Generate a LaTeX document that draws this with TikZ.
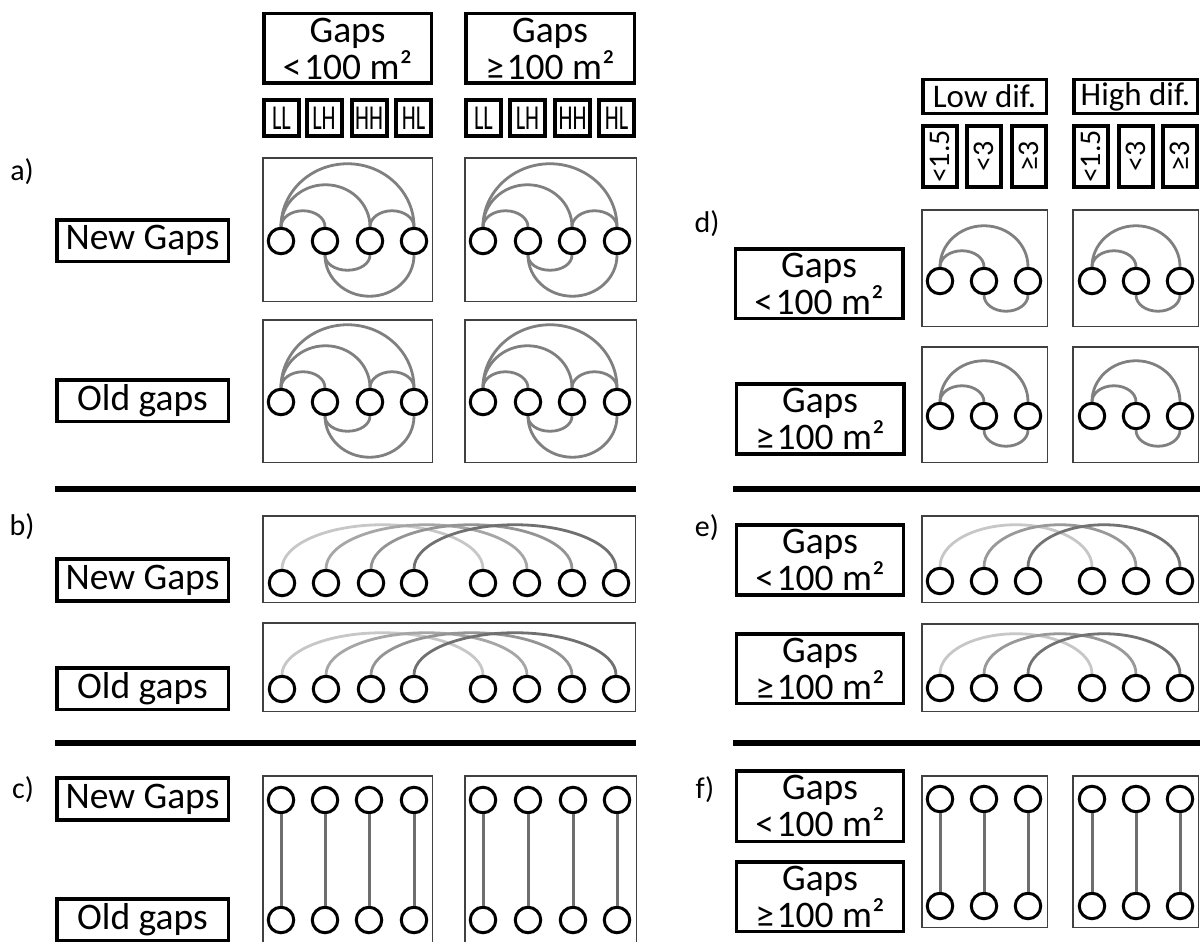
\documentclass[tikz,border=0pt]{standalone}
\usepackage{fontspec}
\setmainfont{Carlito}
\usepackage{graphicx}
\usetikzlibrary{calc}
\pgfdeclarelayer{bg}
\pgfsetlayers{bg,main}
\newcommand\fbig{\fontsize{37.5}{37}\selectfont}
\newcommand\fmid{\fontsize{33}{33}\selectfont}
\newcommand\fsml{\fontsize{30}{30}\selectfont}
\newcommand\ftag{\fontsize{30}{30}\selectfont}
\newcommand\fcode{\fontsize{35}{35}\selectfont}
\newcommand\sq[1]{\scalebox{0.64}[1]{#1}}
\newcommand\rt[1]{\rotatebox{90}{#1}}
\newcommand\myLt{<\kern2.5pt}
\newcommand\myGe{≥\kern2.5pt}
% elliptic arc above: style, from, to, half width, height
\newcommand\upArc[5]{\draw[#1] (#2.north) .. controls +(0,-0.5523*#5) and +(-0.5523*#4,0) .. ($(#2.north)!0.5!(#3.north)+(0,-#5)$) .. controls +(0.5523*#4,0) and +(0,-0.5523*#5) .. (#3.north);}
\newcommand\dnArc[5]{\draw[#1] (#2.south) .. controls +(0,0.5523*#5) and +(-0.5523*#4,0) .. ($(#2.south)!0.5!(#3.south)+(0,#5)$) .. controls +(0.5523*#4,0) and +(0,0.5523*#5) .. (#3.south);}
\begin{document}
\begin{tikzpicture}[x=1pt,y=-1pt,
  lbox/.style={draw=black,line width=3.5pt,inner sep=0pt,align=center,font=\fbig},
  sbox/.style={draw=black,line width=4pt,inner sep=0pt,minimum width=35pt,minimum height=36pt,font=\fcode},
  vbox/.style={draw=black,line width=4pt,inner sep=0pt,minimum width=34pt,minimum height=61pt,font=\fsml},
  pan/.style={draw=black!75,line width=1.5pt,inner sep=0pt},
  gc/.style={circle,draw=black,line width=3pt,fill=white,minimum size=25.5pt,inner sep=0pt},
  arcg/.style={draw=black!50,line width=2.8pt},
  vl/.style={draw=black!57,line width=3pt},
  sep/.style={draw=black,line width=6pt},
  tag/.style={font=\ftag,inner sep=0pt}]
\begin{pgfonlayer}{bg}
\fill[white] (0,0) rectangle (1203,942);
\end{pgfonlayer}
\useasboundingbox (0,0) rectangle (1203,942);

% ---------- headers left ----------
\node[lbox,minimum width=167.5pt,minimum height=69.5pt] (hS) at (347.5,48.5) {Gaps\\\myLt100 m²};
\node[lbox,minimum width=168.5pt,minimum height=69.5pt] (hL) at (550,48.5) {Gaps\\\myGe100 m²};
\foreach \n/\x/\t in {1/281.5/LL,2/324/LH,3/369/HH,4/413.5/HL,5/483.5/LL,6/527.5/LH,7/572.5/HH,8/616.5/HL}
  \node[sbox] (s\n) at (\x,118) {\sq{\t}};

% ---------- headers right ----------
\node[lbox,font=\fmid,minimum width=123.5pt,minimum height=33.5pt] (hLo) at (984.5,96.5) {Low dif.};
\node[lbox,font=\fmid,minimum width=123.5pt,minimum height=33.5pt] (hHi) at (1135.5,96.5) {High dif.};
\node[vbox] (v1) at (940,156.5) {\rt{<1.5}};
\node[vbox] (v2) at (984,156.5) {\rt{<3}};
\node[vbox] (v3) at (1028.5,156.5) {\rt{≥3}};
\node[vbox] (v4) at (1091,156.5) {\rt{<1.5}};
\node[vbox] (v5) at (1136,156.5) {\rt{<3}};
\node[vbox] (v6) at (1180,156.5) {\rt{≥3}};

% ---------- tags ----------
\node[tag] (ta) at (22,172) {a)};
\node[tag] (tb) at (22,527) {b)};
\node[tag] (tc) at (23,790) {c)};
\node[tag] (td) at (707,224) {d)};
\node[tag] (te) at (707,528) {e)};
\node[tag] (tf) at (705,790) {f)};

% ---------- separators ----------
\coordinate (sL1a) at (55,489); \coordinate (sL1b) at (636,489);
\coordinate (sL2a) at (55,743); \coordinate (sL2b) at (636,743);
\coordinate (sR1a) at (733,489); \coordinate (sR1b) at (1200,489);
\coordinate (sR2a) at (733,743); \coordinate (sR2b) at (1200,743);
\draw[sep] (sL1a) -- (sL1b);
\draw[sep] (sL2a) -- (sL2b);
\draw[sep] (sR1a) -- (sR1b);
\draw[sep] (sR2a) -- (sR2b);

% ---------- left row labels ----------
\node[lbox,minimum width=171.5pt,minimum height=41.5pt] (ngA) at (142.5,240.5) {New Gaps};
\node[lbox,minimum width=171.5pt,minimum height=41.5pt] (ogA) at (142.5,400.5) {Old gaps};
\node[lbox,minimum width=171.5pt,minimum height=42pt] (ngB) at (142.5,580) {New Gaps};
\node[lbox,minimum width=171.5pt,minimum height=41.5pt] (ogB) at (142.5,688.5) {Old gaps};
\node[lbox,minimum width=171.5pt,minimum height=42pt] (ngC) at (142.5,799) {New Gaps};
\node[lbox,minimum width=171.5pt,minimum height=41.5pt] (ogC) at (142.5,919.5) {Old gaps};

% ---------- right row labels ----------
\node[lbox,minimum width=167.5pt,minimum height=69.5pt] (gD1) at (819,283.5) {Gaps\\\myLt100 m²};
\node[lbox,minimum width=167.5pt,minimum height=70pt] (gD2) at (820,419) {Gaps\\\myGe100 m²};
\node[lbox,minimum width=167pt,minimum height=70pt] (gE1) at (820,560) {Gaps\\\myLt100 m²};
\node[lbox,minimum width=167pt,minimum height=69.5pt] (gE2) at (820,668.5) {Gaps\\\myGe100 m²};
\node[lbox,minimum width=167pt,minimum height=70.5pt] (gF1) at (820,806) {Gaps\\\myLt100 m²};
\node[lbox,minimum width=167pt,minimum height=69.5pt] (gF2) at (820,896.5) {Gaps\\\myGe100 m²};

% ---------- panels ----------
\node[pan,minimum width=169.5pt,minimum height=143.5pt] (pA1) at (347.5,229.5) {};
\node[pan,minimum width=171.5pt,minimum height=143.5pt] (pA2) at (550.5,229.5) {};
\node[pan,minimum width=169.5pt,minimum height=142.5pt] (pA3) at (347.5,391) {};
\node[pan,minimum width=171.5pt,minimum height=142.5pt] (pA4) at (550.5,391) {};
\node[pan,minimum width=372.5pt,minimum height=86.5pt] (pB1) at (449,559) {};
\node[pan,minimum width=372.5pt,minimum height=88.5pt] (pB2) at (449,667) {};
\node[pan,minimum width=169.5pt,minimum height=173.5pt] (pC1) at (347.5,862.5) {};
\node[pan,minimum width=171.5pt,minimum height=173.5pt] (pC2) at (550.5,862.5) {};
\node[pan,minimum width=125.5pt,minimum height=116.5pt] (pD1) at (984.5,268) {};
\node[pan,minimum width=125.5pt,minimum height=116.5pt] (pD2) at (1135.5,268) {};
\node[pan,minimum width=125.5pt,minimum height=115.5pt] (pD3) at (984.5,404.5) {};
\node[pan,minimum width=125.5pt,minimum height=115.5pt] (pD4) at (1135.5,404.5) {};
\node[pan,minimum width=276.5pt,minimum height=86.5pt] (pE1) at (1060,559) {};
\node[pan,minimum width=276.5pt,minimum height=87.5pt] (pE2) at (1060,667.5) {};
\node[pan,minimum width=125.5pt,minimum height=151.5pt] (pF1) at (984.5,851.5) {};
\node[pan,minimum width=125.5pt,minimum height=151.5pt] (pF2) at (1135.5,851.5) {};

% ---------- panel a ----------
\foreach \i/\x in {1/281,2/325,3/370,4/414} {
  \node[gc] (Ac\i) at (\x,241) {};
  \node[gc] (Cc\i) at (\x,402) {};
}
\foreach \i/\x in {1/483,2/528,3/572,4/617} {
  \node[gc] (Bc\i) at (\x,241) {};
  \node[gc] (Dc\i) at (\x,402) {};
}
\begin{pgfonlayer}{bg}
\foreach \p in {A,B,C,D} {
  \upArc{arcg}{\p c1}{\p c2}{22}{16}
  \upArc{arcg}{\p c1}{\p c3}{44.5}{42}
  \upArc{arcg}{\p c1}{\p c4}{66.5}{63}
  \upArc{arcg}{\p c3}{\p c4}{22}{16}
  \dnArc{arcg}{\p c2}{\p c3}{22.5}{15}
  \dnArc{arcg}{\p c2}{\p c4}{44.5}{41}
}
\end{pgfonlayer}

% ---------- panel b ----------
\foreach \i/\x in {1/282,2/326,3/371,4/414,5/483,6/527,7/572,8/616} {
  \node[gc] (Ec\i) at (\x,583) {};
  \node[gc] (Fc\i) at (\x,689) {};
}
\begin{pgfonlayer}{bg}
\foreach \a/\b/\c in {1/5/black!22,2/6/black!35,3/7/black!42,4/8/black!56} {
  \upArc{arcg,draw=\c}{Ec\a}{Ec\b}{100.5}{44}
  \upArc{arcg,draw=\c}{Fc\a}{Fc\b}{100.5}{42}
}
\end{pgfonlayer}

% ---------- panel c ----------
\foreach \i/\x in {1/281,2/325,3/369,4/414} {
  \node[gc] (Gt\i) at (\x,800) {};
  \node[gc] (Gb\i) at (\x,920) {};
  \draw[vl] (Gt\i.south) -- (Gb\i.north);
}
\foreach \i/\x in {1/483,2/528,3/573,4/617} {
  \node[gc] (Ht\i) at (\x,800) {};
  \node[gc] (Hb\i) at (\x,920) {};
  \draw[vl] (Ht\i.south) -- (Hb\i.north);
}

% ---------- panel d ----------
\foreach \i/\x in {1/940,2/984,3/1028} {
  \node[gc] (Ic\i) at (\x,281) {};
  \node[gc] (Kc\i) at (\x,416) {};
}
\foreach \i/\x in {1/1092,2/1136,3/1180} {
  \node[gc] (Jc\i) at (\x,281) {};
  \node[gc] (Lc\i) at (\x,416) {};
}
\begin{pgfonlayer}{bg}
\foreach \p in {I,J,K,L} {
  \upArc{arcg}{\p c1}{\p c2}{22}{16}
  \upArc{arcg}{\p c1}{\p c3}{44}{41}
  \dnArc{arcg}{\p c2}{\p c3}{22}{16}
}
\end{pgfonlayer}

% ---------- panel e ----------
\foreach \i/\x in {1/940,2/984,3/1028,4/1092,5/1136,6/1180} {
  \node[gc] (Mc\i) at (\x,581) {};
  \node[gc] (Nc\i) at (\x,688) {};
}
\begin{pgfonlayer}{bg}
\foreach \a/\b/\c in {1/4/black!22,2/5/black!40,3/6/black!55} {
  \upArc{arcg,draw=\c}{Mc\a}{Mc\b}{76}{42}
  \upArc{arcg,draw=\c}{Nc\a}{Nc\b}{76}{40}
}
\end{pgfonlayer}

% ---------- panel f ----------
\foreach \i/\x in {1/940,2/984,3/1028} {
  \node[gc] (Ot\i) at (\x,799) {};
  \node[gc] (Ob\i) at (\x,906) {};
  \draw[vl] (Ot\i.south) -- (Ob\i.north);
}
\foreach \i/\x in {1/1092,2/1136,3/1180} {
  \node[gc] (Pt\i) at (\x,799) {};
  \node[gc] (Pb\i) at (\x,906) {};
  \draw[vl] (Pt\i.south) -- (Pb\i.north);
}
\end{tikzpicture}
\end{document}
